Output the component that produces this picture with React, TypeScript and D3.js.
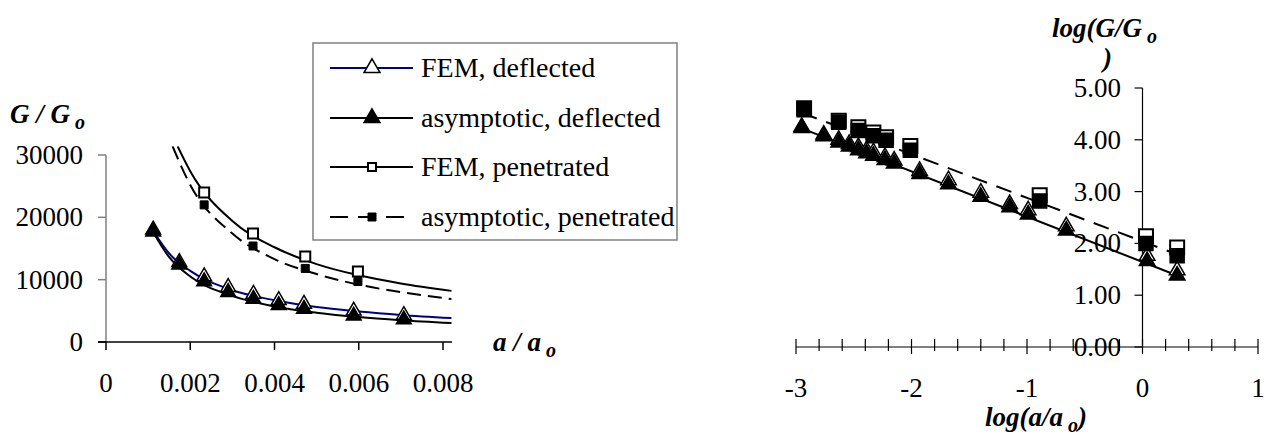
import React, { useEffect, useRef } from 'react';
import * as d3 from 'd3';

// ---- left panel: G/Go against a/ao ----
const leftDeflA = [0.00112, 0.00174, 0.00233, 0.0029, 0.0035, 0.0041, 0.0047, 0.00588, 0.00707];
const leftFemDefl = [18000, 12800, 10500, 8800, 7700, 6700, 6100, 5000, 4300];
const leftAsymDefl = [17700, 12400, 9700, 8000, 6900, 5900, 5300, 4200, 3600];
const leftPenA = [0.00233, 0.00349, 0.00473, 0.00598];
const leftFemPen = [24000, 17400, 13700, 11300];
const leftAsymPen = [22000, 15400, 11800, 9700];

// trend curves as [a/ao, G/Go]
const femDeflCurve = [[0.00112, 17800], [0.0015, 14200], [0.002, 11400], [0.003, 8300], [0.004, 6700], [0.005, 5600], [0.006, 4900], [0.007, 4350], [0.0082, 3850]];
const asymDeflCurve = [[0.00112, 17600], [0.0015, 13600], [0.002, 10500], [0.003, 7400], [0.004, 5700], [0.005, 4700], [0.006, 4000], [0.007, 3500], [0.0082, 3050]];
const femPenCurve = [[0.0017, 31400], [0.002, 27400], [0.003, 19400], [0.004, 15200], [0.005, 12500], [0.006, 10700], [0.007, 9400], [0.0082, 8200]];
const asymPenCurve = [[0.00158, 31400], [0.002, 25200], [0.003, 17400], [0.004, 13300], [0.005, 10900], [0.006, 9200], [0.007, 8000], [0.0082, 6900]];

const leftXTicks = [0, 0.002, 0.004, 0.006, 0.008];
const leftYTicks = [0, 10000, 20000, 30000];

// ---- right panel: log(G/Go) against log(a/ao) ----
const rightDeflX = [-2.95, -2.76, -2.63, -2.54, -2.46, -2.39, -2.33, -2.23, -2.15, -1.93, -1.68, -1.40, -1.15, -0.99, -0.66, 0.04, 0.30];
const rightFemDefl = [4.25, 4.10, 4.00, 3.92, 3.86, 3.80, 3.76, 3.67, 3.60, 3.40, 3.22, 2.98, 2.76, 2.64, 2.33, 1.76, 1.48];
const rightAsymDefl = [4.23, 4.07, 3.95, 3.87, 3.80, 3.74, 3.69, 3.61, 3.54, 3.34, 3.14, 2.90, 2.70, 2.56, 2.25, 1.66, 1.38];
const rightPenX = [-2.93, -2.63, -2.46, -2.33, -2.22, -2.01, -0.89, 0.03, 0.30];
const rightFemPen = [4.61, 4.37, 4.24, 4.14, 4.05, 3.88, 2.93, 2.14, 1.92];
const rightAsymPen = [4.58, 4.34, 4.18, 4.08, 3.99, 3.80, 2.82, 2.00, 1.76];
const rightDeflFit = [[-2.95, 4.22], [0.30, 1.38]];
const rightPenFit = [[-2.95, 4.52], [0.32, 1.77]];

const rightXTicks = [-3, -2, -1, 0, 1];
const rightYTicks = [0, 1, 2, 3, 4, 5];

const legendLabels = ['FEM, deflected', 'asymptotic, deflected', 'FEM, penetrated', 'asymptotic, penetrated'];

const FONT = "'Times New Roman', 'Liberation Serif', Times, serif";
const NAVY = '#000080';

const App = () => {
  const myRef = useRef(null);

  useEffect(() => {
    const svg = d3.select(myRef.current);
    svg.selectAll('*').remove();
    svg.append('rect').attr('width', 1265).attr('height', 439).attr('fill', '#fff');

    const tri = (size) => d3.symbol().type(d3.symbolTriangle).size(size)();
    const sq = (size) => d3.symbol().type(d3.symbolSquare).size(size)();

    const markers = (g, xs, ys, x, y, shape, fill, sw) => {
      g.append('g').selectAll('path')
        .data(xs.map((d, i) => [d, ys[i]]))
        .join('path')
        .attr('d', shape)
        .attr('transform', (d) => `translate(${x(d[0])},${y(d[1])})`)
        .attr('fill', fill)
        .attr('stroke', '#000')
        .attr('stroke-width', sw);
    };

    const txt = (g, xPos, yPos, size = 27, bold = false) =>
      g.append('text').attr('x', xPos).attr('y', yPos)
        .attr('font-size', size)
        .attr('font-weight', bold ? 'bold' : 'normal')
        .attr('font-style', bold ? 'italic' : 'normal');

    // ================= left chart =================
    const x = d3.scaleLinear().domain([0, 0.008]).range([106, 443]);
    const y = d3.scaleLinear().domain([0, 30000]).range([342, 155]);
    const left = svg.append('g');

    svg.append('clipPath').attr('id', 'leftClip')
      .append('rect').attr('x', 106).attr('y', y(31400)).attr('width', 360).attr('height', 200);

    // y axis (grey)
    left.append('line').attr('x1', 106).attr('x2', 106).attr('y1', y(30000)).attr('y2', y(0))
      .attr('stroke', '#808080').attr('stroke-width', 1.5);
    leftYTicks.forEach((t) => {
      left.append('line').attr('x1', 98).attr('x2', 106).attr('y1', y(t)).attr('y2', y(t))
        .attr('stroke', t === 0 ? '#000' : '#808080').attr('stroke-width', 1.5);
      txt(left, 83, y(t) + 9).attr('text-anchor', 'end').text(d3.format('d')(t));
    });
    // x axis (black)
    left.append('line').attr('x1', 98).attr('x2', 452).attr('y1', y(0)).attr('y2', y(0))
      .attr('stroke', '#000').attr('stroke-width', 1.5);
    leftXTicks.forEach((t) => {
      left.append('line').attr('x1', x(t)).attr('x2', x(t)).attr('y1', y(0)).attr('y2', y(0) + 8)
        .attr('stroke', '#000').attr('stroke-width', 1.5);
      txt(left, x(t), 392).attr('text-anchor', 'middle').text(t === 0 ? '0' : d3.format('.3f')(t));
    });

    const curve = d3.line().x((d) => x(d[0])).y((d) => y(d[1])).curve(d3.curveMonotoneX);
    const curves = left.append('g').attr('clip-path', 'url(#leftClip)');
    curves.append('path').attr('d', curve(femDeflCurve)).attr('fill', 'none').attr('stroke', NAVY).attr('stroke-width', 2);
    markers(left, leftDeflA, leftFemDefl, x, y, tri(95), '#fff', 1.5);
    curves.append('path').attr('d', curve(asymDeflCurve)).attr('fill', 'none').attr('stroke', '#000').attr('stroke-width', 2);
    markers(left, leftDeflA, leftAsymDefl, x, y, tri(95), '#000', 1.5);
    curves.append('path').attr('d', curve(femPenCurve)).attr('fill', 'none').attr('stroke', '#000').attr('stroke-width', 2);
    markers(left, leftPenA, leftFemPen, x, y, sq(100), '#fff', 2);
    curves.append('path').attr('d', curve(asymPenCurve)).attr('fill', 'none').attr('stroke', '#000')
      .attr('stroke-width', 2).attr('stroke-dasharray', '14,7');
    markers(left, leftPenA, leftAsymPen, x, y, sq(64), '#000', 1);

    // axis titles
    const gTitle = txt(left, 10, 123, 27, true);
    gTitle.append('tspan').text('G / G');
    gTitle.append('tspan').attr('dy', 6).attr('font-size', 20).text(' o');
    const aTitle = txt(left, 493, 351, 27, true);
    aTitle.append('tspan').text('a / a');
    aTitle.append('tspan').attr('dy', 6).attr('font-size', 20).text(' o');

    // legend
    const lg = svg.append('g');
    lg.append('rect').attr('x', 313).attr('y', 43).attr('width', 364).attr('height', 197)
      .attr('fill', '#fff').attr('stroke', '#808080').attr('stroke-width', 1.5);
    const rowY = [68, 118, 167, 217];
    const rowStyle = [
      { stroke: NAVY, dash: null, shape: tri(110), fill: '#fff', sw: 1.5 },
      { stroke: '#000', dash: null, shape: tri(110), fill: '#000', sw: 1.5 },
      { stroke: '#000', dash: null, shape: sq(64), fill: '#fff', sw: 2 },
      { stroke: '#000', dash: '18,10', shape: sq(64), fill: '#000', sw: 1 },
    ];
    legendLabels.forEach((label, i) => {
      const s = rowStyle[i];
      lg.append('line').attr('x1', 330).attr('x2', 413).attr('y1', rowY[i]).attr('y2', rowY[i])
        .attr('stroke', s.stroke).attr('stroke-width', 2).attr('stroke-dasharray', s.dash);
      lg.append('path').attr('d', s.shape).attr('transform', `translate(372,${rowY[i]})`)
        .attr('fill', s.fill).attr('stroke', '#000').attr('stroke-width', s.sw);
      txt(lg, 421, rowY[i] + 9, 28).text(label);
    });

    // ================= right chart =================
    const rx = d3.scaleLinear().domain([-3, 1]).range([796, 1258]);
    const ry = d3.scaleLinear().domain([0, 5]).range([347, 88]);
    const right = svg.append('g');

    right.append('line').attr('x1', rx(-3)).attr('x2', rx(1)).attr('y1', ry(0)).attr('y2', ry(0))
      .attr('stroke', '#000').attr('stroke-width', 1.2);
    d3.range(-3, 1.0001, 0.2).forEach((t) => {
      const major = Math.abs(t - Math.round(t)) < 1e-6;
      right.append('line').attr('x1', rx(t)).attr('x2', rx(t))
        .attr('y1', ry(0) - 8).attr('y2', ry(0) + (major ? 7 : 4))
        .attr('stroke', '#000').attr('stroke-width', 1.2);
    });
    rightXTicks.forEach((t) => {
      txt(right, rx(t), 397).attr('text-anchor', 'middle').text(String(t));
    });
    right.append('line').attr('x1', rx(0)).attr('x2', rx(0)).attr('y1', ry(5)).attr('y2', ry(0))
      .attr('stroke', '#000').attr('stroke-width', 1.2);
    rightYTicks.forEach((t) => {
      right.append('line').attr('x1', rx(0) - 8).attr('x2', rx(0)).attr('y1', ry(t)).attr('y2', ry(t))
        .attr('stroke', '#000').attr('stroke-width', 1.2);
      txt(right, 1121, ry(t) + 9).attr('text-anchor', 'end').text(d3.format('.2f')(t));
    });

    const fit = d3.line().x((d) => rx(d[0])).y((d) => ry(d[1]));
    right.append('path').attr('d', fit(rightDeflFit)).attr('fill', 'none').attr('stroke', '#000').attr('stroke-width', 2);
    markers(right, rightDeflX, rightFemDefl, rx, ry, tri(105), '#fff', 1.5);
    markers(right, rightDeflX, rightAsymDefl, rx, ry, tri(105), '#000', 1.5);
    right.append('path').attr('d', fit(rightPenFit)).attr('fill', 'none').attr('stroke', '#000')
      .attr('stroke-width', 2).attr('stroke-dasharray', '16,10');
    markers(right, rightPenX, rightFemPen, rx, ry, sq(196), '#fff', 2);
    markers(right, rightPenX, rightAsymPen, rx, ry, sq(196), '#000', 1.5);

    const lx = txt(right, 985, 426, 27, true);
    lx.append('tspan').text('log(a/a');
    lx.append('tspan').attr('dy', 6).attr('font-size', 20).text(' o');
    lx.append('tspan').attr('dy', -6).text(')');
    const ly = txt(right, 1052, 37, 27, true);
    ly.append('tspan').text('log(G/G');
    ly.append('tspan').attr('dy', 6).attr('font-size', 20).text(' o');
    txt(right, 1103, 67, 27, true).text(')');
  }, []);

  return (
    <div>
      <svg ref={myRef} width={1265} height={439} fontFamily={FONT}
        style={{ position: 'absolute', left: 0, top: 0, fontFamily: FONT }}></svg>
    </div>
  );
};

export default App;
